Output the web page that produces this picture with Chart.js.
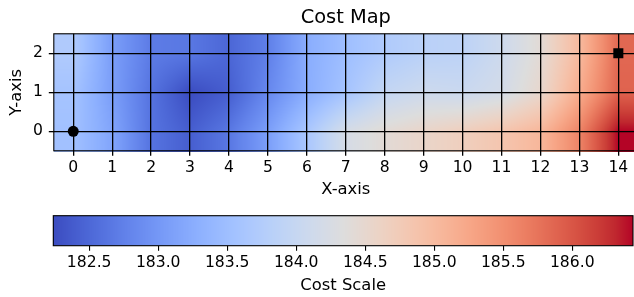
<!DOCTYPE html>
<html lang="en">
<head>
<meta charset="UTF-8">
<title>Cost Map</title>
<style>
    html, body { margin: 0; padding: 0; background: #fff; width: 634px; height: 297px; overflow: hidden; }
    #costMap { position: absolute; left: 0; top: 0; }
    #costBar { position: absolute; left: 0; top: 200px; }
</style>
</head>
<body>
<canvas id="costMap" width="645" height="200"></canvas>
<canvas id="costBar" width="645" height="97"></canvas>

<script src="https://cdn.jsdelivr.net/npm/chart.js"></script>
<script>
// grid cells (cell centres sit on integer positions)
const xCells = [0, 1, 2, 3, 4, 5, 6, 7, 8, 9, 10, 11, 12, 13, 14];
const yCells = [0, 1, 2];

// cost values, one row per y (y = 0, 1, 2)
const costRow0 = [183.54, 183.16, 182.62, 182.41, 182.66, 183.08, 183.63, 184.21, 184.42, 184.55, 184.68, 184.84, 185.05, 185.60, 186.44];
const costRow1 = [183.58, 183.08, 182.62, 182.24, 182.41, 182.83, 183.25, 183.58, 183.96, 184.09, 184.05, 184.17, 184.51, 185.18, 185.89];
const costRow2 = [183.71, 183.08, 182.70, 182.66, 182.49, 182.74, 183.25, 183.50, 183.71, 183.84, 183.88, 184.09, 184.42, 185.01, 185.85];
const costRows = [costRow0, costRow1, costRow2];

const startPoint = [{ x: 0, y: 0 }];
const goalPoint = [{ x: 14, y: 2 }];

const costMin = 182.24;
const costMax = 186.44;
const scaleTicks = [182.5, 183.0, 183.5, 184.0, 184.5, 185.0, 185.5, 186.0];

// coolwarm colormap, 33 evenly spaced stops
const coolwarm = [
    [59,76,192],[68,90,204],[77,104,215],[87,117,225],[98,130,234],[108,142,241],[119,154,247],[130,165,251],
    [141,176,254],[152,185,255],[163,194,255],[174,201,253],[184,208,249],[194,213,244],[204,217,238],[213,219,230],
    [221,221,221],[229,216,209],[236,211,197],[241,204,185],[245,196,173],[247,187,160],[247,177,148],[247,166,135],
    [244,154,123],[241,141,111],[236,127,99],[229,112,88],[222,96,77],[213,80,66],[203,62,56],[192,40,47],[180,4,38]
];

function colorAt(t) {
    t = Math.min(1, Math.max(0, t)) * (coolwarm.length - 1);
    const i = Math.min(coolwarm.length - 2, Math.floor(t));
    const f = t - i;
    const a = coolwarm[i], b = coolwarm[i + 1];
    return [a[0] + (b[0] - a[0]) * f, a[1] + (b[1] - a[1]) * f, a[2] + (b[2] - a[2]) * f];
}

// bilinear lookup between cell centres, clamped at the edges
function costAt(x, y) {
    x = Math.min(xCells.length - 1, Math.max(0, x));
    y = Math.min(yCells.length - 1, Math.max(0, y));
    const i = Math.min(xCells.length - 2, Math.floor(x));
    const j = Math.min(yCells.length - 2, Math.floor(y));
    const fx = x - i, fy = y - j;
    const v00 = costRows[j][i], v10 = costRows[j][i + 1];
    const v01 = costRows[j + 1][i], v11 = costRows[j + 1][i + 1];
    return (v00 * (1 - fx) + v10 * fx) * (1 - fy) + (v01 * (1 - fx) + v11 * fx) * fy;
}

const family = "'DejaVu Sans', sans-serif";
Chart.defaults.font.family = family;
Chart.defaults.color = '#000';

const tickFont = { family: family, size: 15.6 };
const labelFont = { family: family, size: 16.4 };

// paints the interpolated cost field under the grid
const heatPlugin = {
    id: 'heat',
    beforeDraw(chart) {
        const { ctx, chartArea: a, scales: { x, y } } = chart;
        const w = Math.ceil(a.right - a.left), h = Math.ceil(a.bottom - a.top);
        const off = document.createElement('canvas');
        off.width = w; off.height = h;
        const octx = off.getContext('2d');
        const img = octx.createImageData(w, h);
        for (let j = 0; j < h; j++) {
            const dy = y.getValueForPixel(a.top + j + 0.5);
            for (let i = 0; i < w; i++) {
                const dx = x.getValueForPixel(a.left + i + 0.5);
                const c = colorAt((costAt(dx, dy) - costMin) / (costMax - costMin));
                const k = (j * w + i) * 4;
                img.data[k] = c[0]; img.data[k + 1] = c[1]; img.data[k + 2] = c[2]; img.data[k + 3] = 255;
            }
        }
        octx.putImageData(img, 0, 0);
        ctx.drawImage(off, a.left, a.top);
    }
};

// colorbar gradient
const barPlugin = {
    id: 'bar',
    beforeDraw(chart) {
        const { ctx, chartArea: a, scales: { x } } = chart;
        for (let px = Math.floor(a.left); px < a.right; px++) {
            const v = x.getValueForPixel(px + 0.5);
            const c = colorAt((v - costMin) / (costMax - costMin));
            ctx.fillStyle = 'rgb(' + c.map(Math.round).join(',') + ')';
            ctx.fillRect(px, a.top, 1, a.bottom - a.top);
        }
    }
};

const framePlugin = {
    id: 'frame',
    afterDraw(chart) {
        const { ctx, chartArea: a } = chart;
        ctx.save();
        ctx.strokeStyle = '#000';
        ctx.lineWidth = 1.1;
        ctx.strokeRect(a.left, a.top, a.right - a.left, a.bottom - a.top);
        ctx.restore();
    }
};

new Chart(document.getElementById('costMap'), {
    type: 'scatter',
    data: {
        datasets: [
            { data: startPoint, pointStyle: 'circle', pointRadius: 5.5, backgroundColor: '#000', borderWidth: 0 },
            { data: goalPoint, pointStyle: 'rect', pointRadius: 7.1, backgroundColor: '#000', borderWidth: 0 }
        ]
    },
    options: {
        responsive: false,
        animation: false,
        devicePixelRatio: 1,
        layout: { padding: { left: 0, right: 7.2, top: 0, bottom: 0 } },
        plugins: {
            legend: { display: false },
            tooltip: { enabled: false },
            title: {
                display: true, text: 'Cost Map', fullSize: false, color: '#000',
                font: { family: family, size: 19.4, weight: 'normal' },
                padding: { top: 5.9, bottom: 4.6 }
            }
        },
        scales: {
            x: {
                type: 'linear', min: -0.5, max: 14.5,
                afterBuildTicks: s => { s.ticks = xCells.map(v => ({ value: v })); },
                afterFit: s => { s.height = 49.2; },
                grid: { color: '#000', lineWidth: 1.3, tickLength: 5 },
                border: { display: false },
                ticks: { color: '#000', font: tickFont, padding: 3, autoSkip: false, maxRotation: 0 },
                title: { display: true, text: 'X-axis', color: '#000', font: labelFont, padding: { top: 0, bottom: 0 } }
            },
            y: {
                type: 'linear', min: -0.5, max: 2.5,
                afterBuildTicks: s => { s.ticks = yCells.map(v => ({ value: v })); },
                afterFit: s => { s.width = 53.8; },
                grid: { color: '#000', lineWidth: 1.3, tickLength: 5 },
                border: { display: false },
                ticks: { color: '#000', font: tickFont, padding: 6 },
                title: { display: true, text: 'Y-axis', color: '#000', font: labelFont, padding: { top: 7.2, bottom: 0 } }
            }
        }
    },
    plugins: [heatPlugin, framePlugin]
});

new Chart(document.getElementById('costBar'), {
    type: 'scatter',
    data: { datasets: [{ data: [] }] },
    options: {
        responsive: false,
        animation: false,
        devicePixelRatio: 1,
        layout: { padding: { left: 53.3, right: 12, top: 15.7, bottom: 0 } },
        plugins: { legend: { display: false }, tooltip: { enabled: false } },
        scales: {
            x: {
                type: 'linear', min: costMin, max: costMax,
                afterBuildTicks: s => { s.ticks = scaleTicks.map(v => ({ value: v })); },
                afterFit: s => { s.height = 51.3; },
                grid: { color: '#000', lineWidth: 1.1, tickLength: 5, drawOnChartArea: false },
                border: { display: false },
                ticks: { color: '#000', font: tickFont, padding: 3, autoSkip: false, maxRotation: 0, callback: v => v.toFixed(1) },
                title: { display: true, text: 'Cost Scale', color: '#000', font: labelFont, padding: { top: 0, bottom: 1.2 } }
            },
            y: { display: false, min: 0, max: 1 }
        }
    },
    plugins: [barPlugin, framePlugin]
});
</script>
</body>
</html>
